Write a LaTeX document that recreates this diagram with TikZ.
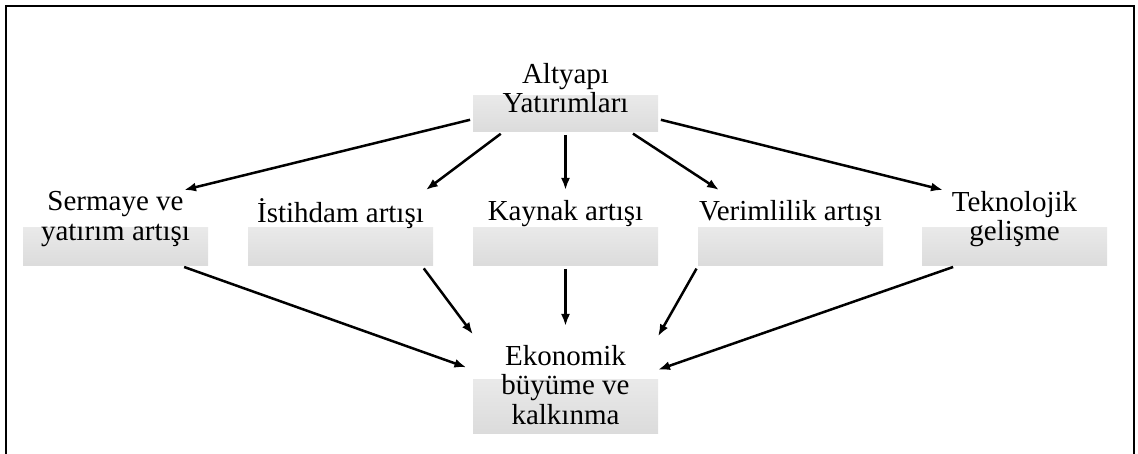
\documentclass[tikz,border=0pt]{standalone}
\usepackage{fontspec}
\setmainfont{Liberation Serif}
\usetikzlibrary{arrows.meta}
\begin{document}
\begin{tikzpicture}[x=1pt,y=-1pt,
  panel/.style={rectangle, minimum width=185pt, inner sep=0pt, outer sep=0pt,
    path picture={\shade[top color=black!3, bottom color=black!14]
      (path picture bounding box.west) rectangle (path picture bounding box.south east);}},
  term/.style={font=\fontsize{29}{29.5}\selectfont, align=center, inner sep=0pt},
  link/.style={line width=2.5pt, shorten <=3pt, -{Latex[length=12pt,width=9pt]}}]
\useasboundingbox (0,0) rectangle (1138,454);

% frame, open at the bottom
\draw[line width=2.6pt] (6,480) -- (6,6) -- (1134,6) -- (1134,480);

% shaded panels
\node[panel, minimum height=72pt]  (b-alt)  at (565.5,96) {};
\node[panel, minimum height=76pt]  (b-serm) at (115.5,228) {};
\node[panel, minimum height=76pt]  (b-ist)  at (340.5,228) {};
\node[panel, minimum height=76pt]  (b-kay)  at (565.5,228) {};
\node[panel, minimum height=76pt]  (b-ver)  at (790.5,228) {};
\node[panel, minimum height=76pt]  (b-tek)  at (1014.5,228) {};
\node[panel, minimum height=107pt] (b-eko)  at (565.5,379.5) {};

% texts
\node[term] (t-alt)  at (565.5,88)  {Altyapı\\Yatırımları};
\node[term] (t-serm) at (115.5,219) {Sermaye ve\\yatırım artışı};
\node[term] (t-ist)  at (340.5,214) {İstihdam artışı};
\node[term] (t-kay)  at (565.5,214) {Kaynak artışı};
\node[term] (t-ver)  at (790.5,214) {Verimlilik artışı};
\node[term] (t-tek)  at (1014.5,219) {Teknolojik\\gelişme};
\node[term] (t-eko)  at (565.5,385) {Ekonomik\\büyüme ve\\kalkınma};

% infrastructure feeds the five channels
\draw[link] (b-alt.194)   -- (b-serm.29);
\draw[link] (b-alt.210.75) -- (b-ist.24);
\draw[link] (b-alt.south) -- (b-kay.north);
\draw[link] (b-alt.331.6) -- (b-ver.152.7);
\draw[link] (b-alt.346.6) -- (b-tek.152);

% channels lead to growth
\draw[link, shorten >=7pt] (b-serm.330.6) -- (b-eko.174);
\draw[link] (b-ist.335.8) -- (b-eko.154.3);
\draw[link] (b-kay.south) -- (b-eko.north);
\draw[link] (b-ver.south west) -- (b-eko.25.7);
\draw[link] (b-tek.213.9) -- (b-eko.6.5);
\end{tikzpicture}
\end{document}
